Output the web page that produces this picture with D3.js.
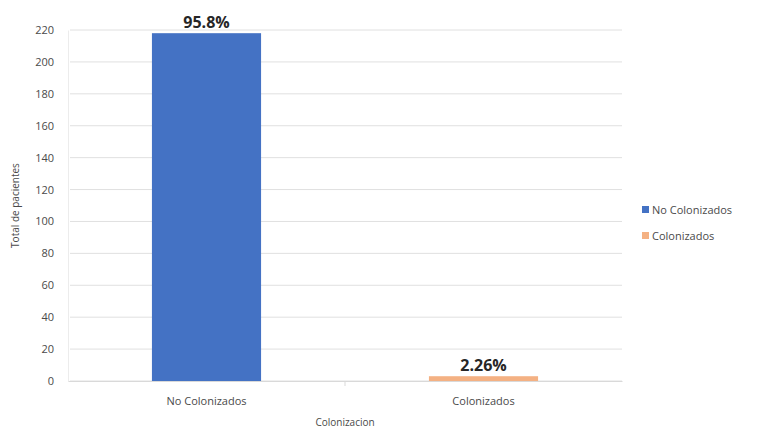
<!DOCTYPE html>
<html><head><meta charset="utf-8">
<script src="https://cdn.jsdelivr.net/npm/d3@7"></script>
<style>body{margin:0;background:#fff}text{font-family:"Open Sans","DejaVu Sans",sans-serif}</style>
</head><body><svg id="c" width="757" height="430"></svg>
<script>
const categories = ["No Colonizados", "Colonizados"];
const values = [218, 3];
const labels = ["95.8%", "2.26%"];
const colors = ["#4472C4", "#F4B183"];
const yTicks = [0,20,40,60,80,100,120,140,160,180,200,220];

const svg = d3.select("#c");
const m = {l:68, r:135, t:30, b:49};
const W = 757, H = 430;
const x = d3.scaleBand().domain(categories).range([m.l, W - m.r]).paddingInner(0.606).paddingOuter(0.303);
const y = d3.scaleLinear().domain([0,220]).range([H - m.b, m.t]);

// gridlines
svg.append("g").selectAll("line").data(yTicks).join("line")
  .attr("x1", m.l + 2).attr("x2", W - m.r).attr("y1", d => y(d)).attr("y2", d => y(d))
  .attr("stroke", "#e0e0e0").attr("stroke-width", 1);

// y axis
const ya = svg.append("g").attr("transform", `translate(${m.l},0)`)
  .call(d3.axisLeft(y).tickValues(yTicks).tickSize(0).tickPadding(14));
ya.select(".domain").attr("stroke", "#ececec");
ya.selectAll("text").attr("fill", "#4a4a4a").style("font-size", "11px");

// x axis
const xa = svg.append("g").attr("transform", `translate(0,${y(0)})`)
  .call(d3.axisBottom(x).tickSize(0).tickPadding(16));
xa.select(".domain").attr("stroke", "#d9d9d9");
xa.selectAll("text").attr("fill", "#4a4a4a").style("font-size", "11px");
svg.append("line").attr("x1", (m.l + W - m.r)/2).attr("x2", (m.l + W - m.r)/2)
  .attr("y1", y(0)).attr("y2", y(0) + 5).attr("stroke", "#d9d9d9");

// bars
svg.append("g").selectAll("rect").data(categories).join("rect")
  .attr("x", d => x(d)).attr("width", x.bandwidth())
  .attr("y", (d,i) => y(values[i])).attr("height", (d,i) => y(0) - y(values[i]))
  .attr("fill", (d,i) => colors[i]);

// data labels
svg.append("g").selectAll("text").data(categories).join("text")
  .attr("x", d => x(d) + x.bandwidth()/2).attr("y", (d,i) => y(values[i]) - 5)
  .attr("text-anchor", "middle").attr("fill", "#262626")
  .style("font-size", "16px").style("font-weight", "bold")
  .text((d,i) => labels[i]);

// axis titles
svg.append("text").attr("x", (m.l + W - m.r)/2).attr("y", 426).attr("text-anchor", "middle")
  .attr("fill", "#4a4a4a").style("font-size", "10px").text("Colonizacion");
svg.append("text").attr("transform", `translate(19,${(y(0)+y(220))/2}) rotate(-90)`)
  .attr("text-anchor", "middle").attr("fill", "#4a4a4a").style("font-size", "10px").text("Total de pacientes");

// legend
const lg = svg.append("g").selectAll("g").data(categories).join("g")
  .attr("transform", (d,i) => `translate(642,${210 + i*26})`);
lg.append("rect").attr("x", 0).attr("y", -4).attr("width", 7).attr("height", 7).attr("fill", (d,i) => colors[i]);
lg.append("text").attr("x", 10).attr("y", 0).attr("dy", "0.35em").attr("fill", "#4a4a4a")
  .style("font-size", "11px").text(d => d);
</script></body></html>
